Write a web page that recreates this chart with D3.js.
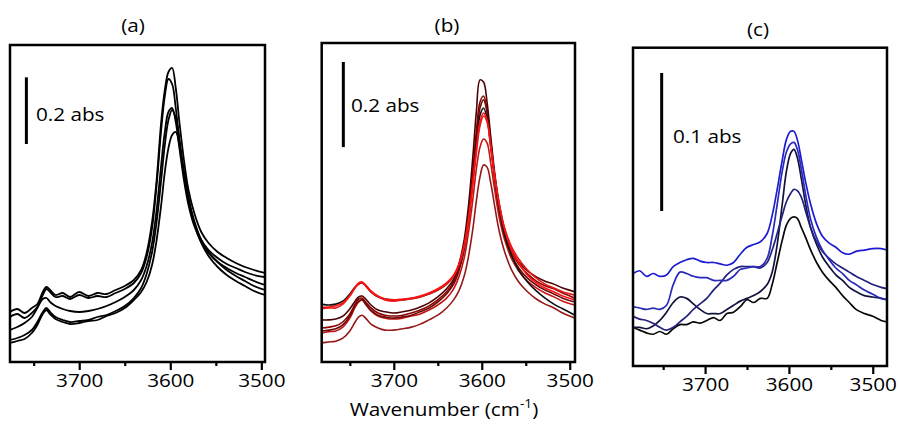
<!DOCTYPE html>
<html><head><meta charset="utf-8">
<script src="https://cdn.jsdelivr.net/npm/d3@7"></script>
<style>
body{margin:0;background:#fff}
svg{display:block}
text{font-family:"Open Sans",sans-serif;fill:#000}
</style>
</head><body>
<svg id="chart" width="900" height="432"></svg>
<script>
// ---------- DATA (absorbance in mAbs) ----------
const titles = ["(a)", "(b)", "(c)"];
const majorTicks = [3700, 3600, 3500];
const minorTicks = [3750, 3650, 3550];
const scaleLabels = ["0.2 abs", "0.2 abs", "0.1 abs"];
const scaleValues = [200, 200, 100];
const xLabel = "Wavenumber (cm";

// panel (a)
const wnA = [3776,3768,3760,3752,3746,3740,3736,3732,3726,3718,3710,3700,3690,3680,3670,3660,3650,3640,3632,3626,3620,3615,3610,3606,3602,3598,3594,3590,3585,3580,3574,3566,3558,3548,3538,3528,3518,3508,3496];
const a1 = [150,159,147,162,174,210,225,216,201,207,195,210,198,207,204,216,228,246,276,327,420,546,720,816,870,882,822,720,606,516,450,390,357,330,312,297,285,276,267];
const a2 = [135,144,132,147,165,201,219,210,195,198,189,201,192,198,195,207,219,237,267,315,402,531,696,798,849,834,762,666,561,480,420,366,336,312,294,282,270,261,255];
const a3 = [96,105,117,135,162,189,192,180,168,159,153,150,153,159,168,180,195,216,246,288,357,456,591,690,750,762,720,642,546,471,411,360,327,300,282,267,255,243,231];
const a4 = [66,72,81,96,120,150,162,150,135,126,120,123,126,135,141,153,168,192,222,264,330,420,546,651,726,756,732,666,570,492,426,366,330,300,276,258,243,228,216];
const a5 = [57,63,69,87,111,144,156,144,129,120,114,117,123,126,138,147,162,186,210,240,291,366,471,570,642,681,690,651,570,492,420,357,318,285,261,243,228,213,201];

// panel (b)
const wnB = [3782,3774,3766,3758,3750,3744,3740,3736,3732,3726,3718,3710,3700,3690,3680,3670,3660,3650,3640,3632,3626,3620,3615,3610,3606,3602,3598,3594,3590,3585,3580,3574,3566,3558,3548,3538,3528,3518,3508,3494];
const b1 = [99,99,101,108,125,143,153,155,148,134,122,118,115,118,122,129,139,153,172,195,230,287,369,486,592,663,658,611,533,439,369,310,263,235,214,200,190,183,174,165];
const b2 = [80,82,85,94,113,136,148,150,141,127,115,110,108,110,115,122,132,146,165,188,221,273,348,451,545,611,625,592,522,432,364,306,259,230,207,190,179,172,162,150];
const b3 = [73,75,78,87,108,132,143,146,136,122,110,106,103,106,110,118,127,141,160,183,214,263,336,437,531,597,616,588,517,428,357,298,251,221,197,181,169,160,150,141];
const b4 = [136,134,136,143,160,176,183,186,179,165,153,148,146,146,150,153,160,169,183,202,226,273,338,432,515,580,597,573,510,428,357,298,249,216,188,167,150,136,125,110];
const b5 = [129,129,132,139,157,176,186,188,181,167,155,148,146,148,150,155,162,172,186,204,230,275,338,428,503,564,585,569,510,432,367,310,263,233,204,186,174,165,155,146];
const b6 = [125,127,127,136,155,174,183,186,179,165,153,146,143,146,148,153,160,169,183,202,228,270,331,418,494,555,578,564,508,432,371,315,270,242,216,197,183,174,165,157];
const b7 = [68,71,73,82,103,129,141,146,136,120,108,103,101,103,108,113,122,134,150,172,200,244,306,385,456,505,524,515,470,400,338,287,242,214,190,174,162,153,143,134];
const b8 = [45,47,49,56,73,94,106,110,103,89,80,75,75,78,82,89,99,110,127,146,167,202,249,315,381,435,463,458,423,362,306,259,216,188,165,148,136,127,115,103];

// panel (c)
const wnC = [3786,3778,3770,3762,3754,3746,3738,3730,3722,3714,3706,3698,3690,3682,3674,3666,3658,3650,3642,3634,3626,3620,3614,3608,3603,3598,3594,3590,3585,3580,3574,3567,3560,3552,3544,3536,3528,3520,3510,3500,3490,3483];
const c1 = [67,69,65,67,65,66,72,75,77,78,76,75,75,74,73,75,81,86,88,90,96,109,128,149,164,170,170,164,149,133,117,103,94,89,86,82,81,83,84,85,85,84];
const c2 = [43,42,41,42,41,44,59,68,67,65,64,64,62,62,62,65,70,71,72,72,78,94,117,141,155,161,162,157,142,124,106,93,84,77,71,67,62,59,55,52,49,48];
const c3 = [36,34,33,31,28,26,28,32,36,41,45,49,55,60,66,70,72,72,72,71,75,84,96,109,119,125,128,127,122,112,100,90,83,78,74,71,68,65,62,59,57,56];
const c4 = [28,28,27,29,33,39,46,50,49,45,41,38,38,38,41,44,47,49,51,54,59,68,88,117,141,154,157,151,135,117,100,88,79,72,66,62,57,54,51,50,49,48];
const c5 = [28,26,24,23,25,23,27,30,30,32,31,33,35,33,38,39,43,48,46,49,49,59,75,91,102,107,108,107,100,93,84,75,68,62,57,51,46,41,38,36,33,32];

// ---------- LAYOUT ----------
const panels = [
  { wn: wnA, series: [a5, a4, a3, a2, a1],
    colors: ["#000","#000","#000","#000","#000"], lw: 1.8,
    xDomain: [3776, 3496], xRange: [10, 265], yDomain: [0, 951], yRange: [362, 45],
    bar: { w: 3758, base: 654 }, lab: { w: 3747.5, v: 723 }, titleX: 133, titleY: 32 },
  { wn: wnB, series: [b8, b7, b3, b2, b1, b4, b6, b5],
    colors: ["#961818","#c41414","#6a0c0c","#8a0000","#4a0202","#111111","#e41a1a","#ff1010"], lw: 1.6,
    xDomain: [3782, 3494], xRange: [321.7, 575], yDomain: [0, 749.65], yRange: [362, 43],
    bar: { w: 3757.4, base: 505 }, lab: { w: 3748.7, v: 588 }, titleX: 447, titleY: 32 },
  { wn: wnC, series: [c5, c4, c3, c2, c1],
    colors: ["#080808","#12123c","#22227e","#2a2ab8","#1c1cd4"], lw: 1.7,
    xDomain: [3786, 3483], xRange: [633, 887], yDomain: [0, 230.6], yRange: [366, 47.7],
    bar: { w: 3751.8, base: 112.3 }, lab: { w: 3738.3, v: 161.6 }, titleX: 758, titleY: 36 }
];

const svg = d3.select("#chart");
const SX = 1.15, FS = 18;

function label(g, x, y, str, anchor) {
  return g.append("text")
    .attr("transform", `translate(${x},${y}) scale(${SX},1)`)
    .attr("text-anchor", anchor)
    .attr("font-size", FS)
    .text(str);
}

panels.forEach((p, i) => {
  const g = svg.append("g");
  const x = d3.scaleLinear().domain(p.xDomain).range(p.xRange);
  const y = d3.scaleLinear().domain(p.yDomain).range(p.yRange);
  const clipId = "clip" + i;
  g.append("clipPath").attr("id", clipId).append("rect")
    .attr("x", p.xRange[0]).attr("y", p.yRange[1])
    .attr("width", p.xRange[1] - p.xRange[0]).attr("height", p.yRange[0] - p.yRange[1]);

  const line = d3.line()
    .x((d, k) => x(p.wn[k]))
    .y(d => y(d))
    .curve(d3.curveCatmullRom.alpha(0.5));

  g.append("g").attr("clip-path", `url(#${clipId})`)
    .selectAll("path").data(p.series).join("path")
    .attr("d", d => line(d))
    .attr("fill", "none")
    .attr("stroke", (d, k) => p.colors[k])
    .attr("stroke-width", p.lw)
    .attr("stroke-linejoin", "round");

  // axes
  const gx = g.append("g").attr("transform", `translate(0,${p.yRange[0]})`);
  gx.call(d3.axisBottom(x).tickValues(majorTicks).tickSize(8).tickFormat(d3.format("d")));
  gx.select(".domain").remove();
  gx.selectAll("line").attr("stroke", "#000").attr("stroke-width", 2.2);
  gx.selectAll("text")
    .attr("y", 25).attr("dy", "0")
    .attr("font-size", FS).attr("font-family", "'Open Sans', sans-serif")
    .attr("fill", "#000")
    .attr("transform", `scale(${SX},1)`);
  gx.attr("font-family", null).attr("font-size", null);

  const gm = g.append("g").attr("transform", `translate(0,${p.yRange[0]})`);
  gm.call(d3.axisBottom(x).tickValues(minorTicks).tickSize(4).tickFormat(() => ""));
  gm.select(".domain").remove();
  gm.selectAll("line").attr("stroke", "#000").attr("stroke-width", 2.2);

  // frame
  g.append("rect")
    .attr("x", p.xRange[0]).attr("y", p.yRange[1])
    .attr("width", p.xRange[1] - p.xRange[0]).attr("height", p.yRange[0] - p.yRange[1])
    .attr("fill", "none").attr("stroke", "#000").attr("stroke-width", 2.5);

  // scale bar
  g.append("line")
    .attr("x1", x(p.bar.w)).attr("x2", x(p.bar.w))
    .attr("y1", y(p.bar.base)).attr("y2", y(p.bar.base + scaleValues[i]))
    .attr("stroke", "#000").attr("stroke-width", 3);
  label(g, x(p.lab.w), y(p.lab.v), scaleLabels[i], "start");

  // title
  label(g, p.titleX, p.titleY, titles[i], "middle");
});

// x axis label
const xl = svg.append("text")
  .attr("transform", `translate(444,416) scale(${SX},1)`)
  .attr("text-anchor", "middle").attr("font-size", FS);
xl.append("tspan").text(xLabel);
xl.append("tspan").attr("font-size", 12).attr("dy", -8).text("-1");
xl.append("tspan").attr("dy", 8).text(")");
</script>
</body></html>
